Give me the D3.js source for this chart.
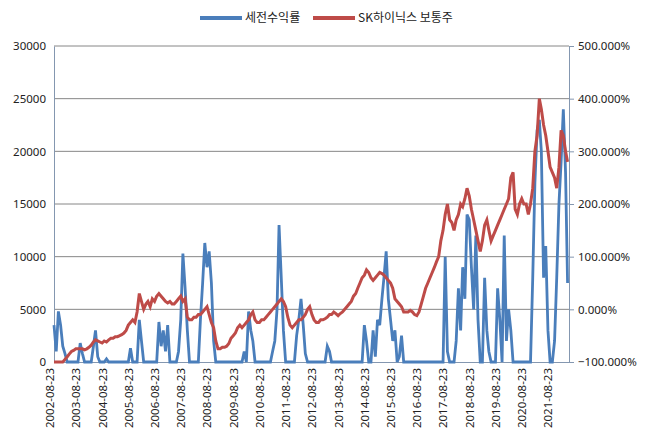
<!DOCTYPE html><html><head><meta charset="utf-8">
<script src="https://cdn.jsdelivr.net/npm/d3@7"></script>
<style>body{margin:0;background:#fff}text{font-family:"Noto Sans CJK KR","Noto Sans",sans-serif}</style></head><body>
<svg id="c" width="648" height="441"></svg>
<script>
const startMonth = "2002-08";
const tickLabels = ["2002-08-23","2003-08-23","2004-08-23","2005-08-23","2006-08-23","2007-08-23","2008-08-23","2009-08-23","2010-08-23","2011-08-23","2012-08-23","2013-08-23","2014-08-23","2015-08-23","2016-08-23","2017-08-23","2018-08-23","2019-08-23","2020-08-23","2021-08-23"];
const leftTicks = [0,5000,10000,15000,20000,25000,30000];
const rightTicks = [-100,0,100,200,300,400,500];
const returnSeries = [3500,1000,4800,3500,1500,
800,0,0,0,0,0,0,1800,800,0,0,0,
0,1500,3000,500,0,0,0,300,0,0,0,0,
0,0,0,0,0,0,1300,0,0,0,4000,2000,
0,0,0,0,0,0,0,3800,1500,3000,1000,3500,
0,0,0,0,1000,4000,10300,7000,3000,0,0,0,
0,0,4000,7500,11300,9000,10500,7500,2000,0,0,0,
0,0,0,0,0,0,0,0,0,0,1000,0,
4800,3000,2000,0,0,0,0,0,0,0,0,1000,
2000,5000,13000,8000,3000,0,0,0,0,0,2500,4000,
6000,3500,800,0,0,0,0,0,0,0,0,0,
1500,1000,0,0,0,0,0,0,0,0,0,0,
0,0,0,0,0,3500,2000,0,0,3000,500,4000,
3500,6000,8000,10500,6000,4000,2000,3000,0,500,2500,0,
0,0,0,0,0,0,0,0,0,0,0,0,
0,0,0,0,0,0,10000,1000,0,0,0,2000,
7000,3000,9000,6000,14000,13500,9000,5000,12000,4000,0,0,
8000,3000,1000,0,0,0,7000,4000,0,12000,2000,5000,
3000,0,0,0,0,0,0,0,0,0,8000,17000,
22000,23000,20000,8000,11000,3000,0,0,2000,8000,15000,19000,
24000,18000,7500];
const stockSeries = [-100,-100,-100,-100,-100,
-95,-90,-85,-80,-78,-75,-75,-75,-75,-77,-75,-72,
-68,-62,-58,-60,-62,-64,-60,-62,-58,-55,-55,-52,
-52,-50,-48,-45,-40,-30,-25,-20,-25,-5,30,15,
0,10,15,5,20,15,25,30,25,20,15,12,
15,10,10,15,20,25,15,20,-15,-20,-20,-15,
-15,-10,-10,-5,0,5,-10,-25,-35,-60,-75,-75,
-72,-72,-70,-65,-55,-50,-45,-35,-30,-35,-30,-25,
-20,-10,-5,-20,-25,-25,-20,-20,-15,-10,-5,0,
5,10,15,20,15,5,-15,-30,-35,-30,-25,-20,
-20,-15,-10,0,5,-10,-20,-25,-25,-20,-20,-18,
-15,-10,-10,-5,-8,-12,-8,-5,0,5,10,15,
25,30,40,50,60,65,75,70,60,55,60,65,
70,68,65,60,55,50,40,20,15,10,5,-5,
-5,-5,-2,-5,-10,-12,-5,10,25,40,50,60,
70,80,90,100,130,150,180,200,170,165,150,170,
180,200,195,210,230,215,190,170,150,130,110,130,
160,170,150,130,140,150,160,170,180,190,200,210,
250,260,190,180,200,210,200,200,180,200,230,300,
330,400,380,350,330,300,270,260,250,230,270,340,
330,300,280];

const svg = d3.select("#c");
const L=54,R=569,T=46,B=362;
const p=d3.utcParse("%Y-%m-%d");
const t0=d3.utcParse("%Y-%m")(startMonth);
const dateOf=i=>d3.utcDay.offset(d3.utcMonth.offset(t0,i),22);
const x=d3.scaleUtc().domain([p("2002-08-23"),d3.utcDay.offset(dateOf(returnSeries.length-1),20)]).range([L,R]);
const yL=d3.scaleLinear().domain([0,30000]).range([B,T]);
const yR=d3.scaleLinear().domain([-100,500]).range([B,T]);
const axisCol="#8497b0";
svg.append("g").selectAll("line").data(leftTicks.slice(1)).join("line")
 .attr("x1",L).attr("x2",R).attr("y1",d=>yL(d)).attr("y2",d=>yL(d)).attr("stroke","#868686").attr("stroke-width",1);
const gl=svg.append("g").attr("transform",`translate(${L},0)`).call(d3.axisLeft(yL).tickValues(leftTicks).tickSize(0).tickPadding(8).tickFormat(d3.format("d")));
const gr=svg.append("g").attr("transform",`translate(${R},0)`).call(d3.axisRight(yR).tickValues(rightTicks).tickSize(5).tickPadding(4).tickFormat(d=>d3.format(".3f")(d)+"%"));
const gx=svg.append("g").attr("transform",`translate(0,${B})`).call(d3.axisBottom(x).tickValues(tickLabels.map(p)).tickSize(0).tickFormat(d3.utcFormat("%Y-%m-%d")));
gx.selectAll("text").attr("transform","rotate(-90)").attr("text-anchor","end").attr("dx","-6px").attr("dy","-0.3em");
[gl,gr,gx].forEach(g=>{g.selectAll("text").attr("font-size",11.5).attr("fill","#222").style("font-family","'Noto Sans','DejaVu Sans',sans-serif");g.selectAll("path,line").attr("stroke",axisCol);});
const line1=d3.line().x((d,i)=>x(dateOf(i))).y(d=>yL(d));
const line2=d3.line().x((d,i)=>x(dateOf(i))).y(d=>yR(d));
svg.append("path").datum(returnSeries).attr("d",line1).attr("fill","none").attr("stroke","#4a7ebb").attr("stroke-width",2.8);
svg.append("path").datum(stockSeries).attr("d",line2).attr("fill","none").attr("stroke","#be4b48").attr("stroke-width",3);
const leg=[{n:"세전수익률",c:"#4a7ebb",x:200},{n:"SK하이닉스 보통주",c:"#be4b48",x:313}];
leg.forEach(l=>{svg.append("line").attr("x1",l.x).attr("x2",l.x+42).attr("y1",18).attr("y2",18).attr("stroke",l.c).attr("stroke-width",4);
svg.append("text").attr("x",l.x+45).attr("y",22).attr("font-size",12).attr("fill","#222").text(l.n);});
</script></body></html>
